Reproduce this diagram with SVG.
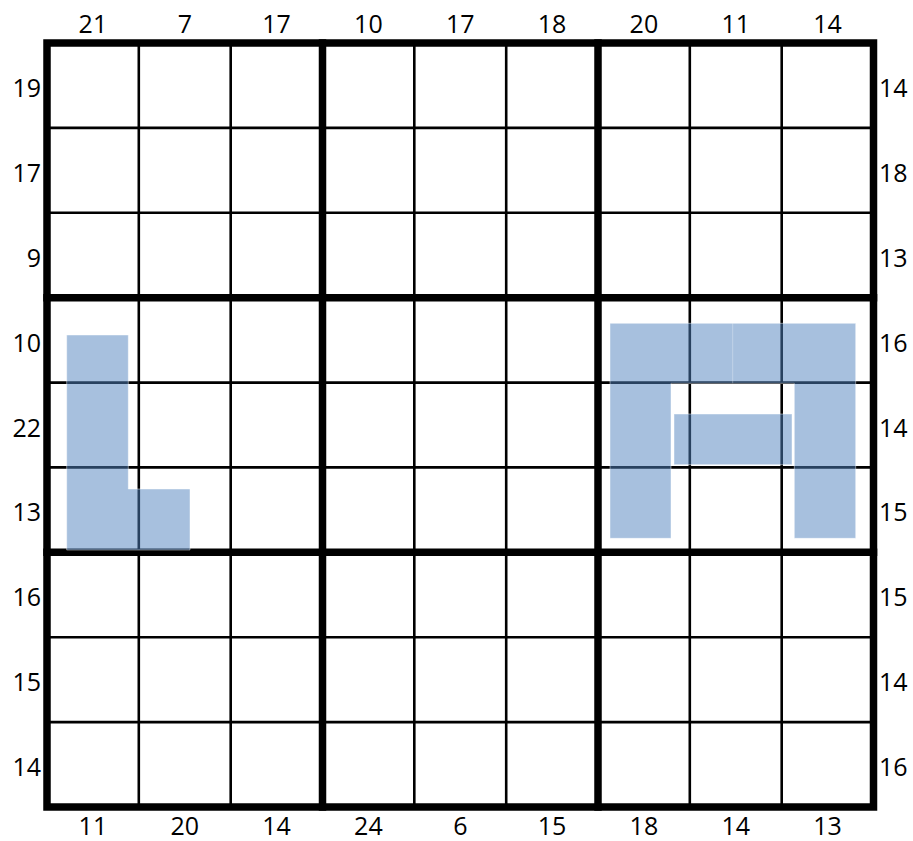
<svg xmlns="http://www.w3.org/2000/svg" width="913" height="841" viewBox="0 0 913 841">
<style>
.thin{stroke:#000;stroke-width:2.6;fill:none}
.thick{stroke:#000;stroke-width:7.5;fill:none;stroke-linecap:square}
.sh{fill:#4F81BD;fill-opacity:0.5;stroke:#fff;stroke-opacity:0.45;stroke-width:1}
text{font-family:"Open Sans","Liberation Sans",sans-serif;font-size:25px;fill:#000}
.c{text-anchor:middle}
.r{text-anchor:end}
</style>
<rect width="913" height="841" fill="#fff"/>
<g id="grid">
<path class="thin" d="M138.8 43V807M230.7 43V807M414.3 43V807M506.2 43V807M689.8 43V807M781.7 43V807M47 127.9H873.5M47 212.8H873.5M47 382.6H873.5M47 467.4H873.5M47 637.2H873.5M47 722.1H873.5"/>
<path class="thick" d="M322.5 43V807M598 43V807M47 297.7H873.5M47 552.3H873.5"/>
<rect class="thick" x="47" y="43" width="826.5" height="764"/>
</g>
<g id="shapes">
<path id="shape-L" class="sh" d="M66.7 335H128.3V489H190V550H66.7Z"/>
<path id="shape-arch" class="sh" d="M610 323.3H855.7V538.3H794.3V383.3H671V538.3H610Z"/>
<line x1="732.7" y1="323.3" x2="732.7" y2="383.3" stroke="#fff" stroke-opacity="0.3" stroke-width="1"/>
<rect id="shape-bar" class="sh" x="674" y="414" width="118" height="50.7"/>
</g>
<g id="top-labels" class="c">
<text x="92.9" y="33">21</text>
<text x="184.8" y="33">7</text>
<text x="276.6" y="33">17</text>
<text x="368.4" y="33">10</text>
<text x="460.3" y="33">17</text>
<text x="552.1" y="33">18</text>
<text x="643.9" y="33">20</text>
<text x="735.8" y="33">11</text>
<text x="827.6" y="33">14</text>
</g>
<g id="bottom-labels" class="c">
<text x="92.9" y="834.5">11</text>
<text x="184.8" y="834.5">20</text>
<text x="276.6" y="834.5">14</text>
<text x="368.4" y="834.5">24</text>
<text x="460.3" y="834.5">6</text>
<text x="552.1" y="834.5">15</text>
<text x="643.9" y="834.5">18</text>
<text x="735.8" y="834.5">14</text>
<text x="827.6" y="834.5">13</text>
</g>
<g id="left-labels" class="r">
<text x="41" y="97">19</text>
<text x="41" y="181.9">17</text>
<text x="41" y="266.8">9</text>
<text x="41" y="351.7">10</text>
<text x="41" y="436.6">22</text>
<text x="41" y="521.4">13</text>
<text x="41" y="606.3">16</text>
<text x="41" y="691.2">15</text>
<text x="41" y="776">14</text>
</g>
<g id="right-labels">
<text x="879" y="97">14</text>
<text x="879" y="181.9">18</text>
<text x="879" y="266.8">13</text>
<text x="879" y="351.7">16</text>
<text x="879" y="436.6">14</text>
<text x="879" y="521.4">15</text>
<text x="879" y="606.3">15</text>
<text x="879" y="691.2">14</text>
<text x="879" y="776">16</text>
</g>
</svg>
